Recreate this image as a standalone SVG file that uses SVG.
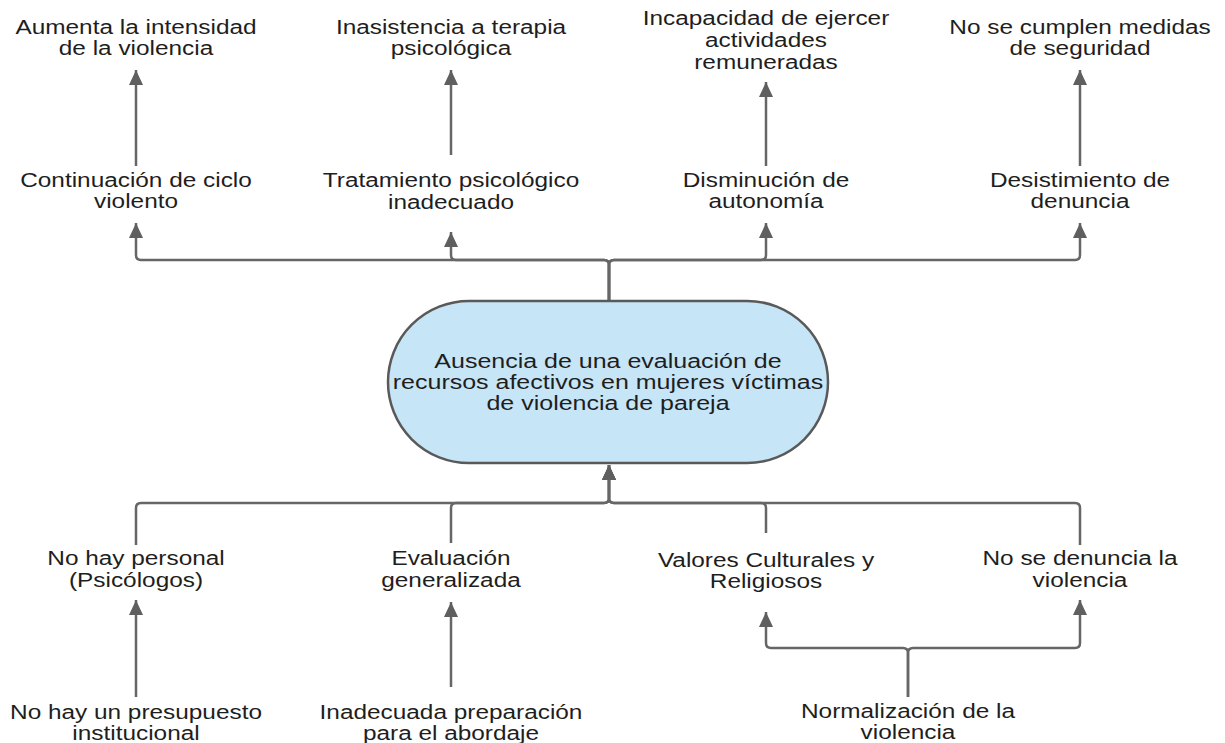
<svg xmlns="http://www.w3.org/2000/svg" width="1225" height="743" viewBox="0 0 1225 743">
<style>
.t{font-family:"Liberation Sans",Arial,sans-serif;font-size:19.5px;fill:#1e1e1e;text-anchor:middle}
.c{fill:none;stroke:#666;stroke-width:2.5;stroke-linejoin:round}
.a{marker-end:url(#ah)}
</style>
<defs>
<marker id="ah" markerUnits="userSpaceOnUse" markerWidth="16" markerHeight="16" viewBox="0 0 16 16" refX="15" refY="8" orient="auto">
<path d="M0,1 L15,8 L0,15 Z" fill="#5f5f5f"/>
</marker>
</defs>
<rect width="1225" height="743" fill="#fff"/>
<g id="connectors">
<path class="c a" d="M136,166 V70"/>
<path class="c a" d="M451,155 V70"/>
<path class="c a" d="M766,166 V82"/>
<path class="c a" d="M1080,166 V70"/>
<path class="c a" d="M609,300 V265 Q609,260 604,260 H141 Q136,260 136,255 V223"/>
<path class="c a" d="M609,300 V265 Q609,260 604,260 H456 Q451,260 451,255 V232"/>
<path class="c a" d="M609,300 V265 Q609,260 614,260 H761 Q766,260 766,255 V223"/>
<path class="c a" d="M609,300 V265 Q609,260 614,260 H1075 Q1080,260 1080,255 V223"/>
<path class="c a" d="M136,545 V508 Q136,503 141,503 H604 Q609,503 609,498 V465"/>
<path class="c a" d="M451,543 V508 Q451,503 456,503 H604 Q609,503 609,498 V465"/>
<path class="c a" d="M766,533 V508 Q766,503 761,503 H614 Q609,503 609,498 V465"/>
<path class="c a" d="M1080,545 V508 Q1080,503 1075,503 H614 Q609,503 609,498 V465"/>
<path class="c a" d="M136,697 V600"/>
<path class="c a" d="M451,687 V602"/>
<path class="c a" d="M908,697 V653 Q908,648 903,648 H771 Q766,648 766,643 V612"/>
<path class="c a" d="M908,697 V653 Q908,648 913,648 H1075 Q1080,648 1080,643 V600"/>
</g>
<g id="n_problema">
<rect x="388" y="301" width="440" height="162" rx="81" ry="81" fill="#c6e5f6" stroke="#595959" stroke-width="2.5"/>
<g transform="translate(608,0)"><text class="t" style="font-size:20px" transform="scale(1.25,1)"><tspan x="0" y="368">Ausencia de una evaluación de</tspan><tspan x="0" y="389">recursos afectivos en mujeres víctimas</tspan><tspan x="0" y="410">de violencia de pareja</tspan></text></g>
</g>
<g id="n_aumenta" transform="translate(136,0)"><text class="t" transform="scale(1.25,1)"><tspan x="0" y="34">Aumenta la intensidad</tspan><tspan x="0" y="55.5">de la violencia</tspan></text></g>
<g id="n_inasistencia" transform="translate(451,0)"><text class="t" transform="scale(1.25,1)"><tspan x="0" y="34">Inasistencia a terapia</tspan><tspan x="0" y="55.5">psicológica</tspan></text></g>
<g id="n_incapacidad" transform="translate(766,0)"><text class="t" transform="scale(1.25,1)"><tspan x="0" y="25">Incapacidad de ejercer</tspan><tspan x="0" y="47">actividades</tspan><tspan x="0" y="69">remuneradas</tspan></text></g>
<g id="n_nosecumplen" transform="translate(1080,0)"><text class="t" transform="scale(1.25,1)"><tspan x="0" y="34">No se cumplen medidas</tspan><tspan x="0" y="55.5">de seguridad</tspan></text></g>
<g id="n_continuacion" transform="translate(136,0)"><text class="t" transform="scale(1.25,1)"><tspan x="0" y="187">Continuación de ciclo</tspan><tspan x="0" y="208.5">violento</tspan></text></g>
<g id="n_tratamiento" transform="translate(451,0)"><text class="t" transform="scale(1.25,1)"><tspan x="0" y="187">Tratamiento psicológico</tspan><tspan x="0" y="209">inadecuado</tspan></text></g>
<g id="n_disminucion" transform="translate(766,0)"><text class="t" transform="scale(1.25,1)"><tspan x="0" y="187">Disminución de</tspan><tspan x="0" y="208.5">autonomía</tspan></text></g>
<g id="n_desistimiento" transform="translate(1080,0)"><text class="t" transform="scale(1.25,1)"><tspan x="0" y="187">Desistimiento de</tspan><tspan x="0" y="208.5">denuncia</tspan></text></g>
<g id="n_nohaypersonal" transform="translate(136,0)"><text class="t" transform="scale(1.25,1)"><tspan x="0" y="565">No hay personal</tspan><tspan x="0" y="587">(Psicólogos)</tspan></text></g>
<g id="n_evaluacion" transform="translate(451,0)"><text class="t" transform="scale(1.25,1)"><tspan x="0" y="565">Evaluación</tspan><tspan x="0" y="587">generalizada</tspan></text></g>
<g id="n_valores" transform="translate(766,0)"><text class="t" transform="scale(1.25,1)"><tspan x="0" y="567">Valores Culturales y</tspan><tspan x="0" y="588">Religiosos</tspan></text></g>
<g id="n_nosedenuncia" transform="translate(1080,0)"><text class="t" transform="scale(1.25,1)"><tspan x="0" y="565">No se denuncia la</tspan><tspan x="0" y="587">violencia</tspan></text></g>
<g id="n_presupuesto" transform="translate(136,0)"><text class="t" transform="scale(1.25,1)"><tspan x="0" y="719">No hay un presupuesto</tspan><tspan x="0" y="740">institucional</tspan></text></g>
<g id="n_preparacion" transform="translate(451,0)"><text class="t" transform="scale(1.25,1)"><tspan x="0" y="719">Inadecuada preparación</tspan><tspan x="0" y="740">para el abordaje</tspan></text></g>
<g id="n_normalizacion" transform="translate(908,0)"><text class="t" transform="scale(1.25,1)"><tspan x="0" y="718">Normalización de la</tspan><tspan x="0" y="739">violencia</tspan></text></g>
</svg>
